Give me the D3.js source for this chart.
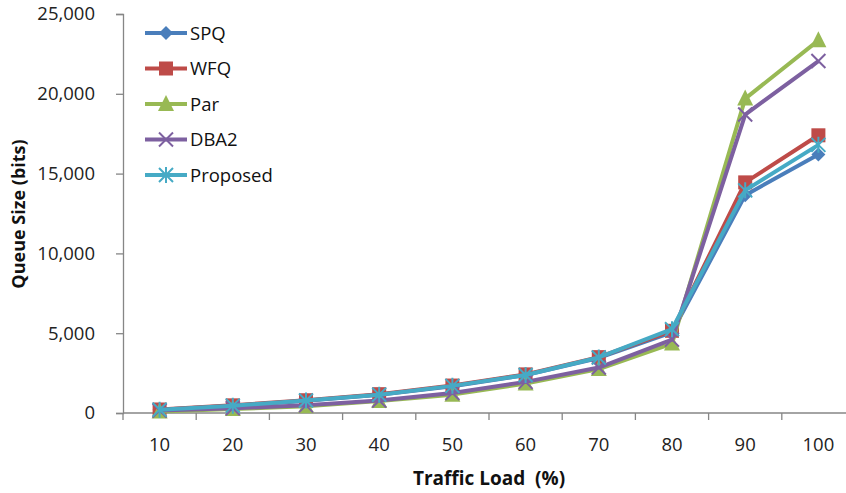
<!DOCTYPE html>
<html>
<head>
<meta charset="utf-8">
<script src="https://cdn.jsdelivr.net/npm/d3@7"></script>
<style>
  html, body { margin: 0; padding: 0; background: #fff; }
  svg { display: block; font-family: "Open Sans", "Noto Sans", sans-serif; }
</style>
</head>
<body>
<svg id="chart" width="846" height="493"></svg>
<script>
// Traffic load categories (%)
const loads = ["10", "20", "30", "40", "50", "60", "70", "80", "90", "100"];
// Queue size per scheme (bits)
const spq      = [200, 450, 760, 1150, 1680, 2380, 3450, 5050, 13650, 16200];
const wfq      = [220, 480, 800, 1180, 1720, 2420, 3500, 5150, 14450, 17400];
const par      = [100, 250, 420, 750, 1150, 1850, 2750, 4350, 19700, 23350];
const dba2     = [150, 300, 480, 780, 1250, 1950, 2850, 4600, 18700, 22050];
const proposed = [210, 460, 780, 1150, 1700, 2380, 3480, 5250, 13950, 16800];
const yTicks = [0, 5000, 10000, 15000, 20000, 25000];

const series = [
  { name: "SPQ", values: spq, color: "#4A7EBB", marker: "diamond" },
  { name: "WFQ", values: wfq, color: "#BE4B48", marker: "square" },
  { name: "Par", values: par, color: "#98B954", marker: "triangle" },
  { name: "DBA2", values: dba2, color: "#7D60A0", marker: "cross" },
  { name: "Proposed", values: proposed, color: "#46AAC5", marker: "star" }
];

const svg = d3.select("#chart");
const plotLeft = 123, plotRight = 855, plotTop = 14, plotBottom = 413;

const x = d3.scaleBand().domain(loads).range([plotLeft, plotRight]);
const y = d3.scaleLinear().domain([0, 25000]).range([plotBottom, plotTop]);
const axisColor = "#868686";

// Y axis
const yAxis = svg.append("g").attr("transform", `translate(${plotLeft},0)`)
  .call(d3.axisLeft(y).tickValues(yTicks).tickSize(7).tickPadding(21)
    .tickFormat(d3.format(",")));
yAxis.select(".domain").attr("stroke", axisColor).attr("stroke-width", 1.3);
yAxis.selectAll(".tick line").attr("stroke", axisColor).attr("stroke-width", 1.3);
yAxis.selectAll(".tick text").attr("font-size", 18.5).attr("fill", "#222")
  .attr("font-family", "'Open Sans', sans-serif");

// X axis with tick marks on category boundaries
const xAxis = svg.append("g").attr("transform", `translate(0,${plotBottom})`);
xAxis.append("line").attr("x1", plotLeft).attr("x2", plotRight).attr("y1", 0).attr("y2", 0)
  .attr("stroke", axisColor).attr("stroke-width", 1.3);
const bounds = loads.map(d => x(d)).concat([x(loads[loads.length - 1]) + x.bandwidth()]);
xAxis.selectAll("line.tk").data(bounds).join("line").attr("class", "tk")
  .attr("x1", d => d).attr("x2", d => d).attr("y1", 0).attr("y2", 7)
  .attr("stroke", axisColor).attr("stroke-width", 1.3);
xAxis.selectAll("text").data(loads).join("text")
  .attr("x", d => x(d) + x.bandwidth() / 2).attr("y", 38)
  .attr("text-anchor", "middle").attr("font-size", 18.5).attr("fill", "#222")
  .text(d => d);

// Axis titles
svg.append("text").attr("x", 489).attr("y", 485).attr("text-anchor", "middle")
  .attr("font-size", 19).attr("font-weight", "bold").attr("fill", "#111")
  .style("white-space", "pre").text("Traffic Load  (%)");
svg.append("text").attr("transform", "translate(25,214) rotate(-90)")
  .attr("text-anchor", "middle").attr("font-size", 18).attr("font-weight", "bold")
  .attr("fill", "#111").text("Queue Size (bits)");

// Marker drawing
function drawMarker(g, type, color, cx, cy) {
  if (type === "diamond") {
    g.append("path").attr("d", `M${cx},${cy - 7}L${cx + 7},${cy}L${cx},${cy + 7}L${cx - 7},${cy}Z`)
      .attr("fill", color);
  } else if (type === "square") {
    g.append("rect").attr("x", cx - 7).attr("y", cy - 7).attr("width", 14).attr("height", 14)
      .attr("fill", color);
  } else if (type === "triangle") {
    g.append("path").attr("d", `M${cx},${cy - 9}L${cx + 8},${cy + 7}L${cx - 8},${cy + 7}Z`)
      .attr("fill", color);
  } else if (type === "cross") {
    g.append("path").attr("d", `M${cx - 7},${cy - 7}L${cx + 7},${cy + 7}M${cx + 7},${cy - 7}L${cx - 7},${cy + 7}`)
      .attr("stroke", color).attr("stroke-width", 2).attr("fill", "none");
  } else if (type === "star") {
    g.append("path").attr("d", `M${cx - 7},${cy - 7}L${cx + 7},${cy + 7}M${cx + 7},${cy - 7}L${cx - 7},${cy + 7}M${cx},${cy - 8}L${cx},${cy + 8}`)
      .attr("stroke", color).attr("stroke-width", 2).attr("fill", "none");
  }
}

// Series lines and markers
const line = d3.line().x((d, i) => x(loads[i]) + x.bandwidth() / 2).y(d => y(d));
const plot = svg.append("g");
series.forEach(s => {
  const g = plot.append("g");
  g.append("path").datum(s.values).attr("d", line)
    .attr("fill", "none").attr("stroke", s.color).attr("stroke-width", 4)
    .attr("stroke-linejoin", "round");
  s.values.forEach((v, i) => drawMarker(g, s.marker, s.color, x(loads[i]) + x.bandwidth() / 2, y(v)));
});

// Legend
const legend = svg.append("g");
series.forEach((s, i) => {
  const ly = 33 + i * 35.5;
  const g = legend.append("g");
  g.append("line").attr("x1", 145).attr("x2", 187).attr("y1", ly).attr("y2", ly)
    .attr("stroke", s.color).attr("stroke-width", 4);
  drawMarker(g, s.marker, s.color, 166, ly);
  g.append("text").attr("x", 190).attr("y", ly + 6.5).attr("font-size", 18.5)
    .attr("fill", "#111").text(s.name);
});
</script>
</body>
</html>
